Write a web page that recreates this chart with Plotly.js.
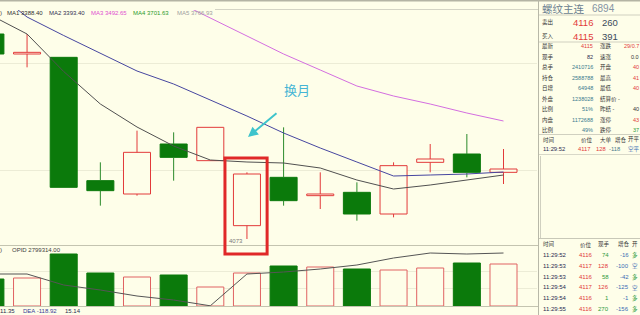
<!DOCTYPE html>
<html>
<head>
<meta charset="utf-8">
<script src="https://cdn.plot.ly/plotly-3.0.1.min.js"></script>
<style>
html, body { margin: 0; padding: 0; background: #fefee9; }
#chart { width: 640px; height: 315px; }
</style>
</head>
<body>
<div id="chart"></div>
<script>
// ---- 螺纹主连 bars ----
const bars  = [0, 1, 2, 3, 4, 5, 6, 7, 8, 9, 10, 11, 12, 13, 14];
const open  = [4196, 4184, 4182, 4108, 4100, 4130, 4120, 4081, 4110, 4099, 4101, 4088, 4119, 4124, 4113];
const high  = [4198, 4196, 4182, 4119, 4138, 4137, 4140, 4113, 4140, 4113, 4107, 4119, 4130, 4136, 4127];
const low   = [4182, 4176, 4104, 4093, 4099, 4108, 4120, 4073, 4093, 4091, 4084, 4086, 4113, 4110, 4106];
const close = [4184, 4185, 4104, 4102, 4125, 4122, 4140, 4112, 4096, 4100, 4088, 4117, 4121, 4113, 4115];

// moving averages
const ma1 = [4207.4, 4196.0, 4173.5, 4154.0, 4140.2, 4128.8, 4120.4, 4119.2, 4118.6, 4115.6, 4108.4, 4103.0, 4105.4, 4108.4, 4111.4];
const ma2 = [4223.4, 4206.2, 4195.1, 4184.3, 4173.8, 4166.0, 4156.4, 4146.8, 4136.6, 4127.6, 4119.2, 4110.8, 4111.4, 4112.0, 4113.2];
const ma3 = [null, null, null, null, null, 4216.4, 4205.6, 4194.8, 4184.0, 4174.4, 4164.8, 4158.8, 4154.0, 4148.6, 4143.8];

// volume and open interest
const volume = [135000, 140000, 260000, 165000, 145000, 155000, 95000, 165000, 200000, 195000, 185000, 180000, 190000, 215000, 210000];
const openInt = [2778300, 2778300, 2767300, 2762300, 2756300, 2752300, 2746500, 2778300, 2780300, 2783300, 2787300, 2794300, 2799300, 2798300, 2799314];

// header texts
const maLabels = ['MA1 3388.40', 'MA2 3393.40', 'MA3 3492.65', 'MA4 3701.63', 'MA5 3766.93'];
const oiLabel = 'OPID 2799314.00';
const macdLabels = ['11.35', 'DEA -118.92', '15.14'];
const lowLabel = '4073';
const noteText = '换月';

// quote panel (the right column is narrow, so its values are shown truncated)
const contractName = '螺纹主连';
const contractVol = '6894';
const askBid = [['卖出', '4116', '260'], ['买入', '4115', '391']];
const quoteLabelsL = ['最新', '现手', '总手', '持仓', '日增', '外盘', '比例', '内盘', '比例'];
const quoteValuesL = ['4115', '82', '2410716', '2588788', '64948', '1238028', '51%', '1172688', '49%'];
const quoteLabelsR = ['涨跌', '速涨', '开盘', '最高', '最低', '结算价 -', '昨结 -', '涨停', '跌停'];
const quoteValuesR = ['29/0.7', '0.0', '40', '41', '40', '', '40', '43', '37'];
const bigHead = ['时间', '价位', '大单', '增仓', '开平'];
const bigDeal = ['11:29:52', '4117', '128', '-118', '空平'];
const tickHead = ['时间', '价位', '现手', '增仓', '开'];
const tickTime = ['11:29:52', '11:29:53', '11:29:53', '11:29:54', '11:29:54', '11:29:55'];
const tickPrice = [4116, 4117, 4116, 4117, 4116, 4116];
const tickVol = [74, 128, 58, 126, 1, 270];
const tickOI = [-16, -100, -42, -125, -1, -156];
const tickType = ['多', '空', '多', '空', '多', '多'];

// ---- styling ----
const W = 640, H = 315;
const px = v => v / W;
const py = v => 1 - v / H;
const SLOT = 36.65, X0 = -9.6, PLOT_R = 537;   // bar pitch (px), centre of bar 0, right edge of chart
const BG = '#fefee9', RED = '#e23a3a', RED_V = '#e06262', GREEN = '#0b7a0b';
const LAT = 'Liberation Sans, Arial, sans-serif';
const CJK = 'Liberation Sans, Noto Sans CJK SC, sans-serif';
const C_TXT = '#333333', C_TEAL = '#3a7a8e', C_NAVY = '#2a2a50', C_BLUE = '#3b6db5', C_GRN = '#2e9a3e';

const up = bars.map(i => close[i] >= open[i]);

function wicks(isUp) {
  const xs = [], ys = [];
  bars.forEach(i => {
    if (up[i] !== isUp) return;
    const top = Math.max(open[i], close[i]);
    const bot = Math.min(open[i], close[i]);
    if (high[i] > top) { xs.push(i, i, null); ys.push(top, high[i], null); }
    if (low[i] < bot) { xs.push(i, i, null); ys.push(bot, low[i], null); }
  });
  return { type: 'scatter', mode: 'lines', x: xs, y: ys,
           line: { color: isUp ? RED : '#2a8a2a', width: 1 }, hoverinfo: 'skip' };
}

const BW = 0.737;
const traces = [
  { type: 'bar', x: bars,
    base: bars.map(i => Math.min(open[i], close[i])),
    y: bars.map(i => Math.abs(close[i] - open[i]) || 0.5),
    width: BW,
    marker: { color: bars.map(i => up[i] ? BG : GREEN),
              line: { color: bars.map(i => up[i] ? RED : GREEN), width: 1 } } },
  wicks(true), wicks(false),
  { type: 'scatter', mode: 'lines', x: bars, y: ma1, line: { color: '#505050', width: 1 } },
  { type: 'scatter', mode: 'lines', x: bars, y: ma2, line: { color: '#4646a0', width: 1 } },
  { type: 'scatter', mode: 'lines', x: bars, y: ma3, line: { color: '#d46ee0', width: 1 } },
  { type: 'bar', x: bars, y: volume, yaxis: 'y2', width: BW,
    marker: { color: bars.map(i => up[i] ? BG : GREEN),
              line: { color: bars.map(i => up[i] ? RED_V : GREEN), width: 1 } } },
  { type: 'scatter', mode: 'lines', x: bars, y: openInt, yaxis: 'y3', line: { color: '#555555', width: 1 } }
];

// ---- annotations ----
const ann = [];
function txt(x, y, text, color, size, anchor, family) {
  ann.push({ xref: 'paper', yref: 'paper', x: px(x), y: py(y), text: text, showarrow: false,
             xanchor: anchor || 'left', yanchor: 'middle', borderpad: 0, borderwidth: 0,
             font: { family: family || LAT, size: size, color: color } });
}

// chart headers
const maColors = ['#303030', '#303050', '#e04ed0', '#2a9a2a', '#a0a0a0'];
const maX = [7, 49, 91, 133, 177];
txt(0, 13.5, ')', C_TXT, 6);
maLabels.forEach((t, i) => txt(maX[i], 13.5, t, maColors[i], 6));
txt(0, 249.5, ')', C_TXT, 6);
txt(12, 249.5, oiLabel, '#404040', 6);
txt(0, 310.5, macdLabels[0], C_NAVY, 6);
txt(23, 310.5, macdLabels[1], '#3a3a9a', 6);
txt(65, 310.5, macdLabels[2], C_NAVY, 6);
txt(229, 241, lowLabel, '#7a7a7a', 6);
txt(297, 89, noteText, '#45b5d5', 13, 'center', 'Noto Sans CJK SC');
ann.push({ xref: 'paper', yref: 'paper', x: px(248), y: py(137), ax: 30, ay: -25, text: '',
           showarrow: true, arrowhead: 2, arrowsize: 1, arrowwidth: 2, arrowcolor: '#3ec4cc' });

// quote panel
txt(542, 8, contractName, '#6b7f90', 10.5, 'left', 'Noto Sans CJK SC');
txt(592, 8, contractVol, '#8494a4', 10, 'left');
askBid.forEach((r, i) => {
  const y = 22.5 + i * 13.5;
  txt(542, y, r[0], C_TXT, 5.5, 'left', CJK);
  txt(593, y, r[1], RED, 9.5, 'right');
  txt(618, y, r[2], '#3a4a5a', 9.5, 'right');
});
const colL = [RED, C_NAVY, C_TEAL, C_TEAL, C_TEAL, C_TEAL, C_TEAL, C_TEAL, C_TEAL];
const colR = [RED, C_TXT, RED, RED, RED, C_TXT, C_TXT, RED, C_GRN];
quoteLabelsL.forEach((l, i) => {
  const y = 46 + i * 10.5;
  txt(542, y, l, C_TXT, 5.5, 'left', CJK);
  txt(593, y, quoteValuesL[i], colL[i], 5.5, 'right');
  txt(600, y, quoteLabelsR[i], C_TXT, 5.5, 'left', CJK);
  if (quoteValuesR[i]) txt(639, y, quoteValuesR[i], colR[i], 5.5, 'right');
});
const bigX = [543, 581, 600, 615, 628];
bigHead.forEach((h, i) => txt(bigX[i], 139.5, h, C_TXT, 5.5, 'left', CJK));
txt(543, 148.5, bigDeal[0], C_NAVY, 5.8);
txt(590, 148.5, bigDeal[1], RED, 5.8, 'right');
txt(606, 148.5, bigDeal[2], RED, 5.8, 'right');
txt(620, 148.5, bigDeal[3], '#4a7a8a', 5.8, 'right');
txt(628, 148.5, bigDeal[4], C_BLUE, 5.5, 'left', CJK);

const tickX = [543, 580, 598, 618, 632];
tickHead.forEach((h, i) => txt(tickX[i], 244, h, C_TXT, 5.5, 'left', CJK));
tickTime.forEach((t, i) => {
  const y = 255 + i * 10.8;
  const longSide = tickType[i] === '多';
  txt(543, y, t, C_NAVY, 6);
  txt(593, y, String(tickPrice[i]), RED, 6, 'right');
  txt(609, y, String(tickVol[i]), longSide ? C_GRN : RED, 6, 'right');
  txt(629, y, String(tickOI[i]), C_BLUE, 6, 'right');
  txt(632, y, tickType[i], longSide ? C_GRN : C_BLUE, 5.5, 'left', CJK);
});

// ---- frame lines ----
function hline(y, x0, x1, color, w) {
  return { type: 'line', xref: 'paper', yref: 'paper', x0: px(x0), x1: px(x1), y0: py(y), y1: py(y),
           line: { color: color, width: w || 1 } };
}
function vline(x, y0, y1, color, w) {
  return { type: 'line', xref: 'paper', yref: 'paper', x0: px(x), x1: px(x), y0: py(y0), y1: py(y1),
           line: { color: color, width: w || 1 } };
}
const FRAME = '#c4c4b0';
const shapes = [
  hline(0.8, 0, 640, '#b4b4a4', 1.6),
  hline(9.5, 215, 538, '#d4d4c4'),
  hline(245.5, 0, 538, FRAME),
  hline(306.5, 0, 538, FRAME),
  vline(538.5, 0, 315, '#b8b8a8'),
  hline(15, 539, 640, '#d0d0c0'),
  hline(42, 539, 640, '#d0d0c0'),
  hline(134.5, 539, 640, '#d0d0c0'),
  hline(154.5, 539, 640, '#d8d8c8'),
  vline(540.5, 156, 238, '#d0d0c0'),
  hline(238.5, 539, 640, '#c8c8b8'),
  // highlight around the roll-over bar
  { type: 'rect', xref: 'x', yref: 'paper', x0: 7 - 0.6, x1: 7 + 0.55, y0: py(254), y1: py(158),
    line: { color: '#e02828', width: 3 }, fillcolor: 'rgba(0,0,0,0)' }
];

const hidden = { showticklabels: false, ticks: '', zeroline: false, showline: false };
const layout = {
  width: W, height: H,
  margin: { l: 0, r: 0, t: 0, b: 0, pad: 0 },
  paper_bgcolor: BG, plot_bgcolor: BG,
  showlegend: false, barmode: 'overlay', hovermode: false,
  xaxis: Object.assign({ domain: [0, px(PLOT_R)], range: [(0 - X0) / SLOT, (PLOT_R - X0) / SLOT],
                         showgrid: false }, hidden),
  yaxis: Object.assign({ domain: [py(245), py(10)], range: [4069.4, 4210.4],
                         showgrid: true, gridcolor: '#ececd6', gridwidth: 1, tickvals: [4114.4, 4178.6] }, hidden),
  yaxis2: Object.assign({ anchor: 'x', domain: [py(306), py(245)], range: [0, 305000],
                          showgrid: true, gridcolor: '#ececd6', tickvals: [90000, 175000] }, hidden),
  yaxis3: Object.assign({ anchor: 'x', overlaying: 'y2', range: [2746314, 2807314], showgrid: false }, hidden),
  shapes: shapes,
  annotations: ann
};

Plotly.newPlot('chart', traces, layout, { staticPlot: true, displayModeBar: false });
</script>
</body>
</html>
